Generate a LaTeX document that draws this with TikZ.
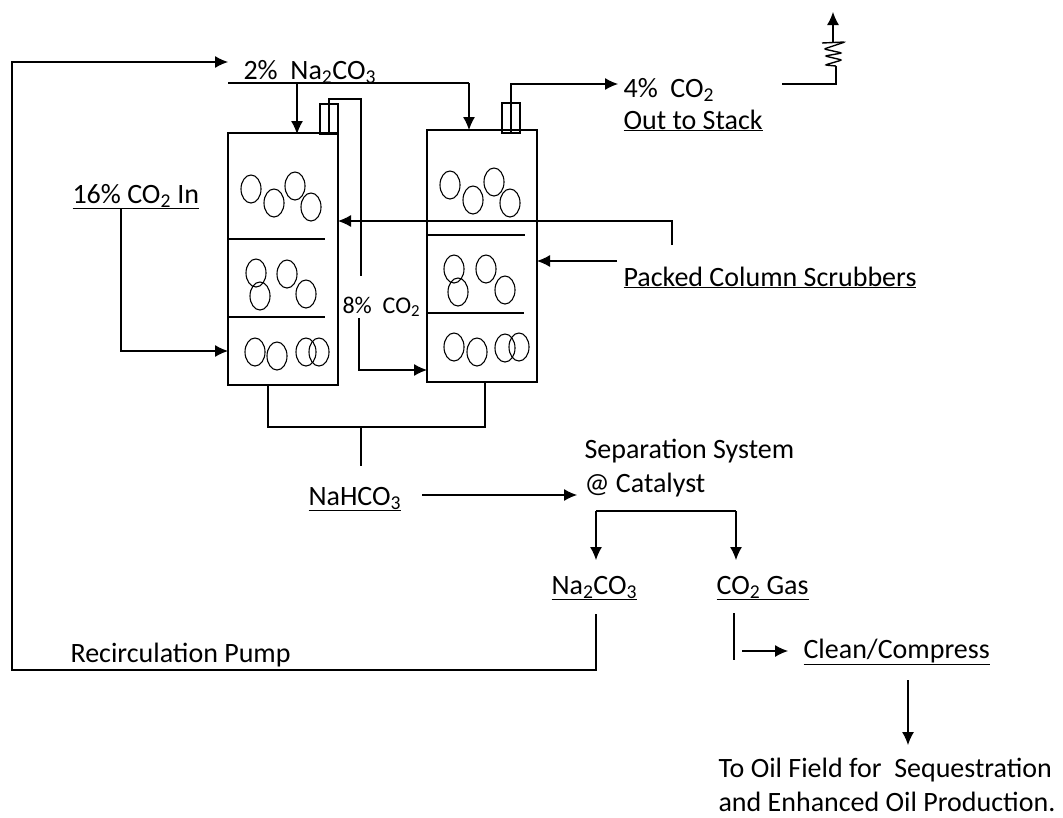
\documentclass[tikz,border=0pt]{standalone}
\usepackage{fontspec}
\setmainfont{Carlito}
\usetikzlibrary{arrows.meta, positioning, shapes.geometric}
\newcommand{\tsub}[1]{\textsubscript{#1}}
\begin{document}
\begin{tikzpicture}[x=1pt, y=-1pt, line width=1.1pt,
    flow/.style={-{Latex[length=13pt, width=12pt]}},
    label/.style={anchor=base west, inner sep=0pt, font=\fontsize{28}{32}\selectfont},
    smalllabel/.style={anchor=base west, inner sep=0pt, font=\fontsize{24}{28}\selectfont},
    column/.style={draw, minimum width=110pt, minimum height=252pt, inner sep=0pt},
    nozzle/.style={draw, minimum width=18pt, minimum height=30pt, inner sep=0pt},
    bubble/.style={draw, ellipse, minimum width=20pt, minimum height=28pt, inner sep=0pt}]
  \useasboundingbox (0,0) rectangle (1063,817);
  \node [column] (c1) at (283,259) {};
  \node [column] (c2) at (482,256) {};
  \node [nozzle] (n1) at (329,119) {};
  \node [nozzle] (n2) at (511,118) {};
  \draw (229,239) -- (325,239);
  \draw (229,317) -- (325,317);
  \draw (427,235) -- (525,235);
  \draw (427,313) -- (524,313);
  \node [bubble] (b1) at (251,189) {};
  \node [bubble] (b2) at (274,203) {};
  \node [bubble] (b3) at (295,186) {};
  \node [bubble] (b4) at (311,207) {};
  \node [bubble] (b5) at (256,273) {};
  \node [bubble] (b6) at (260,296) {};
  \node [bubble] (b7) at (287,274) {};
  \node [bubble] (b8) at (306,294) {};
  \node [bubble] (b9) at (255,352) {};
  \node [bubble] (b10) at (277,356) {};
  \node [bubble] (b11) at (306,352) {};
  \node [bubble] (b12) at (319,352) {};
  \node [bubble] (b13) at (450,185) {};
  \node [bubble] (b14) at (473,200) {};
  \node [bubble] (b15) at (494,182) {};
  \node [bubble] (b16) at (510,203) {};
  \node [bubble] (b17) at (454,269) {};
  \node [bubble] (b18) at (458,292) {};
  \node [bubble] (b19) at (486,269) {};
  \node [bubble] (b20) at (505,290) {};
  \node [bubble] (b21) at (454,347) {};
  \node [bubble] (b22) at (477,352) {};
  \node [bubble] (b23) at (505,348) {};
  \node [bubble] (b24) at (519,347) {};
  \node [label] (soda) at (243,79) {2\%\ \ Na\tsub{2}CO\tsub{3}};
  \node [label] (co2in) at (72,203) {\underline{16\% CO\tsub{2}\ In}};
  \node [smalllabel] (mid) at (342,313) {8\%\ \ CO\tsub{2}};
  \node [label] (out) at (623,97) {4\%\ \ CO\tsub{2}};
  \node [label] (stack) at (623,129) {\underline{Out to Stack}};
  \node [label] (packed) at (623,286) {\underline{Packed Column Scrubbers}};
  \node [label] (bicarb) at (308,505) {\underline{NaHCO\tsub{3}}};
  \node [label] (sep1) at (584,458) {Separation System};
  \node [label] (sep2) at (584,492) {@ Catalyst};
  \node [label] (carb) at (551,594) {\underline{Na\tsub{2}CO\tsub{3}}};
  \node [label] (gas) at (716,594) {\underline{CO\tsub{2} Gas}};
  \node [label] (pump) at (70,662) {Recirculation Pump};
  \node [label] (clean) at (803,658) {\underline{Clean/Compress}};
  \node [label] (oil1) at (718,777) {To Oil Field for\ \ Sequestration};
  \node [label] (oil2) at (718,811) {and Enhanced Oil Production.};
  \coordinate (feed) at (228,83);
  \coordinate (top1) at (297,134);
  \coordinate (top2) at (469,130);
  \coordinate (pipe1) at (329,99);
  \coordinate (pipe2) at (361,276);
  \coordinate (pipe3) at (359,318);
  \coordinate (pipe4) at (427,370);
  \coordinate (hit) at (618,84);
  \coordinate (inlet) at (121,208);
  \coordinate (inleft) at (228,351);
  \coordinate (scrub) at (672,245);
  \coordinate (scrub1) at (338,221);
  \coordinate (scrub2) at (617,261);
  \coordinate (scrub3) at (537,261);
  \coordinate (drain1) at (268,385);
  \coordinate (drain2) at (485,381);
  \coordinate (join) at (268,427);
  \coordinate (drain3) at (361,427);
  \coordinate (drain4) at (361,466);
  \coordinate (sepin) at (422,495);
  \coordinate (sepout) at (577,495);
  \coordinate (split1) at (596,511);
  \coordinate (split2) at (736,511);
  \coordinate (recirc1) at (596,614);
  \coordinate (recirc2) at (12,670);
  \coordinate (recirc3) at (228,62);
  \coordinate (gas1) at (734,613);
  \coordinate (gas2) at (734,660);
  \coordinate (comp1) at (742,651);
  \coordinate (comp2) at (788,651);
  \coordinate (oilin) at (908,680);
  \coordinate (oilout) at (908,745);
  \coordinate (st1) at (782,84);
  \coordinate (st2) at (836,66);
  \coordinate (st3) at (833,42);
  \coordinate (st4) at (833,12);
  \draw [flow] (recirc1) |- (recirc2) |- (recirc3);
  \draw (feed) -- (top2 |- feed);
  \draw [flow] (top2 |- feed) -- (top2);
  \draw [flow] (top1 |- feed) -- (top1);
  \draw (n1.south) -- (pipe1) -| (pipe2);
  \draw [flow] (pipe3) |- (pipe4);
  \draw [flow] (n2.south) |- (hit);
  \draw [flow] (inlet) |- (inleft);
  \draw [flow] (scrub) |- (scrub1);
  \draw [flow] (scrub2) -- (scrub3);
  \draw (drain1) -- (join) -| (drain2);
  \draw (drain3) -- (drain4);
  \draw [flow] (sepin) -- (sepout);
  \draw [flow] (split1) -- (split1 |- 0,560);
  \draw [flow] (split2) -- (split2 |- 0,560);
  \draw (split1) -- (split2);
  \draw (gas1) -- (gas2);
  \draw [flow] (comp1) -- (comp2);
  \draw [flow] (oilin) -- (oilout);
  \draw (st1) -| (st2);
  \draw [line width=1.4pt, rounded corners=2pt] (st2) -- (825,65) -- (842,60) -- (825,56) -- (842,53) -- (824,49) -- (845,42) -- (822,43);
  \draw [flow] (st3) -- (st4);
\end{tikzpicture}
\end{document}
